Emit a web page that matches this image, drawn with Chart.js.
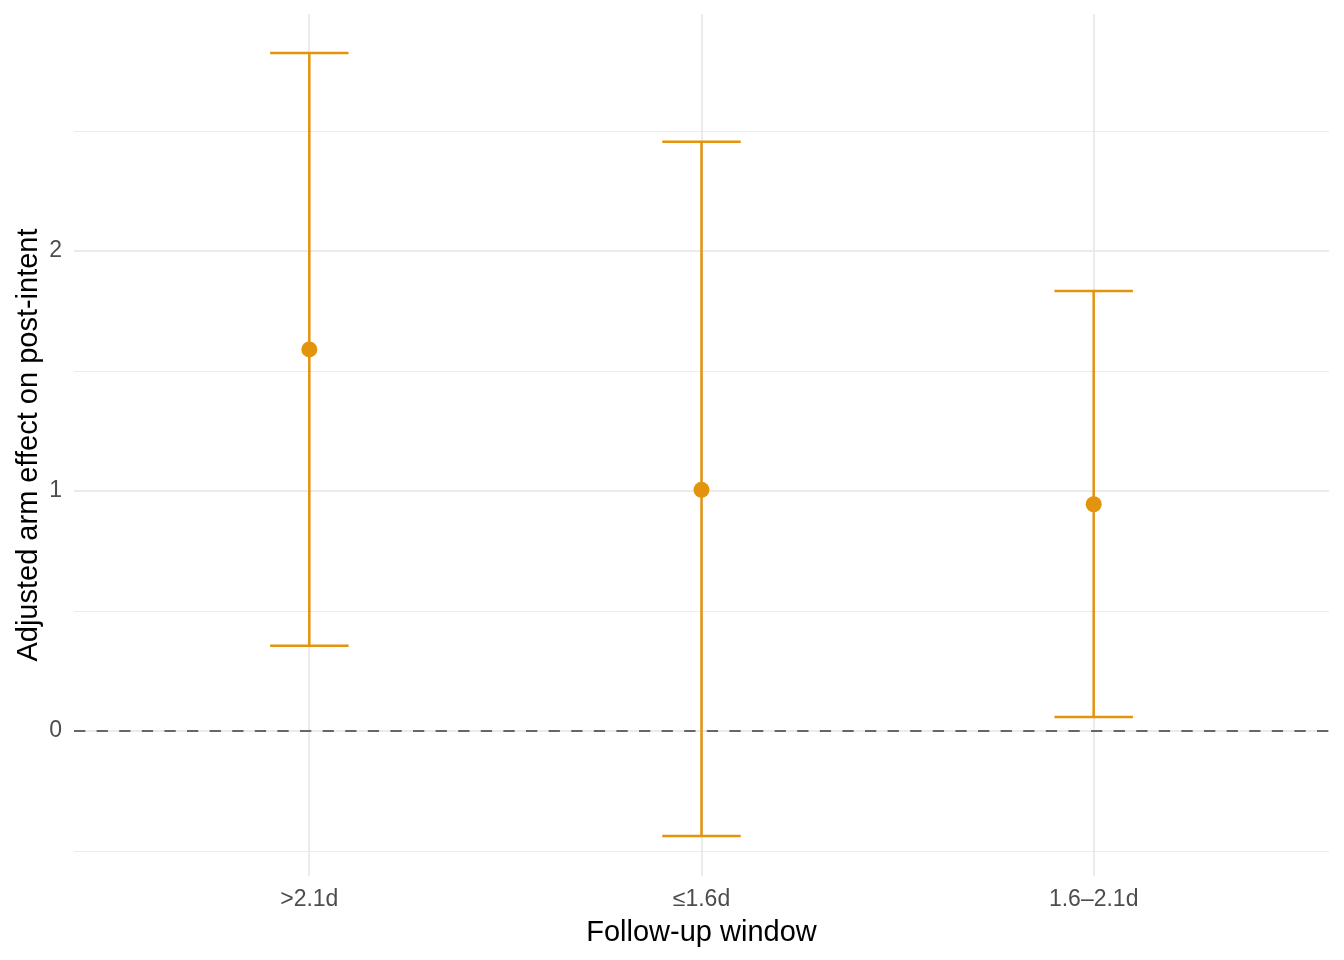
<!DOCTYPE html>
<html>
<head>
<meta charset="utf-8">
<script src="https://cdn.jsdelivr.net/npm/chart.js@4"></script>
<style>
  html, body { margin: 0; padding: 0; background: #fff; }
  #wrap { width: 1344px; height: 960px; }
</style>
</head>
<body>
<div id="wrap"><canvas id="chart" width="1344" height="960"></canvas></div>
<script>
// data
const windows = ['>2.1d', '\u22641.6d', '1.6\u20132.1d'];
const estimate = [1.59, 1.005, 0.945];
const lower = [0.355, -0.437, 0.058];
const upper = [2.825, 2.455, 1.833];
const yTicks = [-0.5, 0, 0.5, 1, 1.5, 2, 2.5];

const orange = '#E3930C';
const font = 'Liberation Sans, Arial, Helvetica, sans-serif';

// error bars + dashed zero line
const errorBars = {
   id: 'errorBars',
   beforeDatasetsDraw(chart) {
      const {ctx, chartArea, scales: {x, y}} = chart;
      ctx.save();
      // zero reference line
      ctx.strokeStyle = '#666666';
      ctx.lineWidth = 2;
      ctx.setLineDash([11.3, 11.3]);
      ctx.beginPath();
      ctx.moveTo(chartArea.left, y.getPixelForValue(0));
      ctx.lineTo(chartArea.right, y.getPixelForValue(0));
      ctx.stroke();
      ctx.setLineDash([]);

      ctx.strokeStyle = orange;
      ctx.lineWidth = 2.5;
      windows.forEach((w, i) => {
         const cx = x.getPixelForValue(i + 1);
         const x0 = x.getPixelForValue(i + 0.9);
         const x1 = x.getPixelForValue(i + 1.1);
         const yl = y.getPixelForValue(lower[i]);
         const yu = y.getPixelForValue(upper[i]);
         ctx.beginPath();
         ctx.moveTo(cx, yl); ctx.lineTo(cx, yu);
         ctx.moveTo(x0, yl); ctx.lineTo(x1, yl);
         ctx.moveTo(x0, yu); ctx.lineTo(x1, yu);
         ctx.stroke();
      });
      ctx.restore();
   }
};

const chart = new Chart(document.getElementById('chart').getContext('2d'), {
   type: 'scatter',
   data: {
      datasets: [{
         data: estimate.map((v, i) => ({x: i + 1, y: v})),
         backgroundColor: orange,
         borderColor: orange,
         pointRadius: 8,
         pointBorderWidth: 0
      }]
   },
   options: {
      responsive: false,
      animation: false,
      layout: { padding: { left: 0, right: 15, top: 14, bottom: 0 } },
      plugins: { legend: { display: false }, tooltip: { enabled: false } },
      scales: {
         x: {
            type: 'linear',
            min: 0.4,
            max: 3.6,
            afterBuildTicks: s => { s.ticks = windows.map((w, i) => ({value: i + 1})); },
            afterFit: s => { s.height = 84; s.paddingLeft = 0; s.paddingRight = 0; },
            border: { display: false },
            grid: { color: '#EBEBEB', lineWidth: 2, drawTicks: false },
            ticks: {
               padding: 10,
               color: '#4D4D4D',
               font: { family: font, size: 23 },
               callback: v => windows[Math.round(v) - 1]
            },
            title: {
               display: true,
               text: 'Follow-up window',
               color: '#000',
               font: { family: font, size: 29 },
               padding: { top: 0, bottom: 10 }
            }
         },
         y: {
            min: -0.604,
            max: 2.9875,
            afterBuildTicks: s => { s.ticks = yTicks.map(v => ({value: v})); },
            afterFit: s => { s.width = 74; s.paddingTop = 0; s.paddingBottom = 0; },
            border: { display: false },
            grid: {
               color: '#EBEBEB',
               lineWidth: c => (c.tick && Number.isInteger(c.tick.value)) ? 2 : 1,
               drawTicks: false
            },
            ticks: {
               padding: 12,
               color: '#4D4D4D',
               font: { family: font, size: 23 },
               callback: v => Number.isInteger(v) ? String(v) : ''
            },
            title: {
               display: true,
               text: 'Adjusted arm effect on post-intent',
               color: '#000',
               font: { family: font, size: 29 },
               padding: { top: 12, bottom: 0 }
            }
         }
      }
   },
   plugins: [errorBars]
});
</script>
</body>
</html>
